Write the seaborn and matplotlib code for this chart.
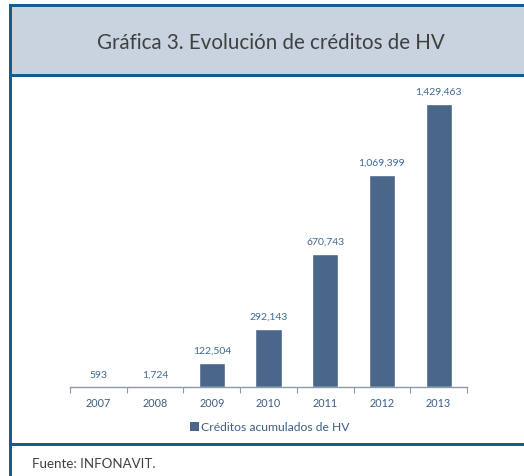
import matplotlib
matplotlib.use("Agg")
import matplotlib.pyplot as plt
import seaborn as sns
import pandas as pd
from matplotlib.patches import Rectangle, Patch

years = ["2007", "2008", "2009", "2010", "2011", "2012", "2013"]
values = [593, 1724, 122504, 292143, 670743, 1069399, 1429463]
series_name = "Créditos acumulados de HV"
title = "Gráfica 3. Evolución de créditos de HV"
source = "Fuente: INFONAVIT."

W, H = 524, 477
sns.set_theme(style="white")
plt.rcParams['font.family'] = ['Lato', 'DejaVu Sans']

fig = plt.figure(figsize=(W / 100, H / 100), dpi=100)
fig.patch.set_facecolor("white")

def px_rect(x0, y0, x1, y1, **kw):
    # pixel coords with y from top
    fig.add_artist(Rectangle((x0 / W, 1 - y1 / H), (x1 - x0) / W, (y1 - y0) / H,
                             transform=fig.transFigure, **kw))

border = "#175d8c"
px_rect(9, 5, W, 77, facecolor="#c8d3df", edgecolor="none", lw=0)
px_rect(9, 5, W, 8, facecolor=border, edgecolor="none", lw=0)
px_rect(9, 75, W, 78, facecolor=border, edgecolor="none", lw=0)
px_rect(9, 444, W, 447, facecolor=border, edgecolor="none", lw=0)
px_rect(9, 5, 12, H, facecolor=border, edgecolor="none", lw=0)

fig.text(271 / W, 1 - 43 / H, title, ha="center", va="center",
         fontsize=14.8, color="#404040", fontweight="normal")
fig.text(32 / W, 1 - 464 / H, source, ha="left", va="center",
         fontsize=9.6, color="#404040")

ymax = 1500000
top_px = 388 - 283 * ymax / 1429463
ax = fig.add_axes([70 / W, (H - 388) / H, (467 - 70) / W, (388 - top_px) / H])
ax.set_facecolor("none")

df = pd.DataFrame({"year": years, "value": values})
bar_color = "#4a6789"
sns.barplot(data=df, x="year", y="value", color=bar_color, width=0.46,
            saturation=1, ax=ax)
ax.set_xlim(-0.5, 6.5)
ax.set_ylim(0, ymax)
for s in ["top", "left", "right"]:
    ax.spines[s].set_visible(False)
ax.spines["bottom"].set_color("#8a9aab")
ax.spines["bottom"].set_linewidth(1.0)
ax.set_yticks([])
ax.set_xlabel("")
ax.set_ylabel("")
ax.set_xticks(range(len(years)))
ax.set_xticklabels(years)
ax.set_xticks([i - 0.5 for i in range(len(years) + 1)], minor=True)
ax.tick_params(axis="x", which="major", length=0, pad=7, labelsize=7.8, labelcolor="#3b5f85")
ax.tick_params(axis="x", which="minor", length=4, width=0.8, color="#8a9aab", direction="out", bottom=True)

label_color = "#3b6a96"
for i, v in enumerate(values):
    ax.annotate(f"{v:,}", (i, v), xytext=(0, 6), textcoords="offset points",
                ha="center", va="bottom", fontsize=7.5, color=label_color)

handle = Patch(facecolor=bar_color, edgecolor="none")
fig.legend([handle], [series_name], loc="center", bbox_to_anchor=(270 / W, 1 - 428 / H),
           frameon=False, fontsize=8.7, handlelength=0.7, handleheight=0.7,
           handletextpad=0.2, labelcolor="#3b5f85")

fig.savefig("out.png", dpi=100)
